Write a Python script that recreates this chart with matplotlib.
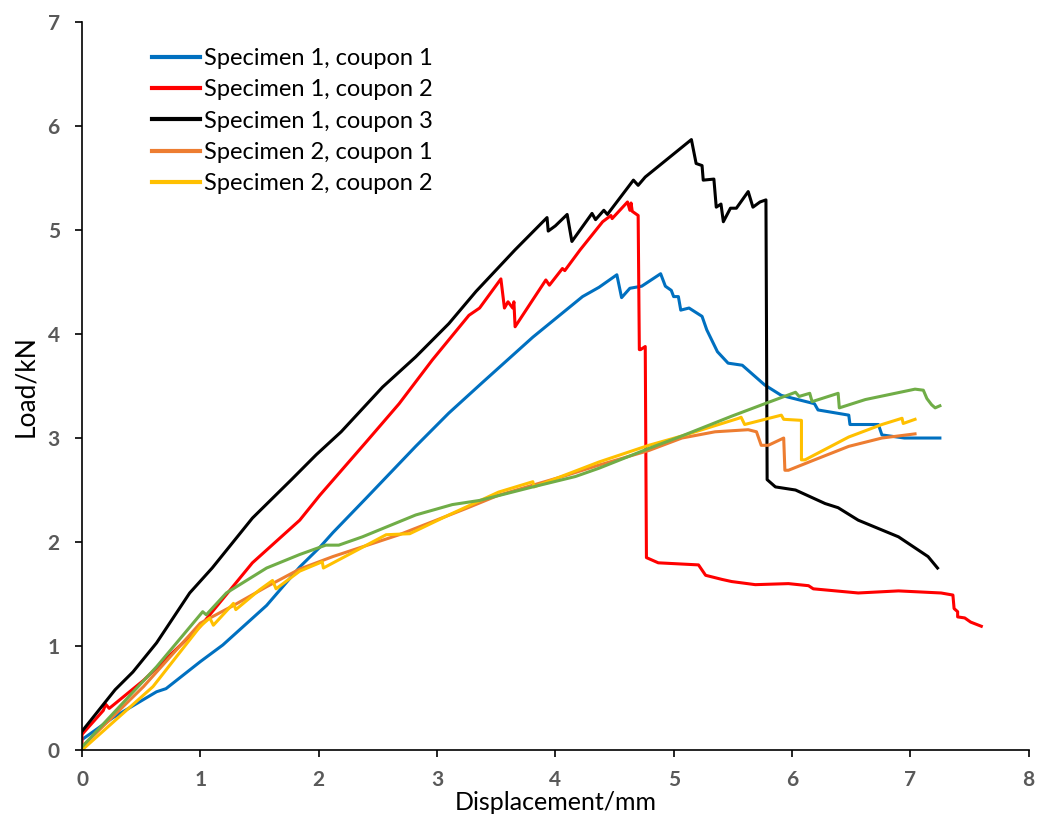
import matplotlib.pyplot as plt

# curves (displacement mm, load kN)
s1c1_x = [0, 0.26, 0.63, 0.71, 1.0, 1.19, 1.56, 1.84, 2.01, 2.12, 2.40, 2.82, 3.10, 3.38, 3.81,
          4.23, 4.37, 4.52, 4.56, 4.63, 4.73, 4.89, 4.93, 4.98, 5.0, 5.04, 5.06, 5.13, 5.24,
          5.28, 5.37, 5.46, 5.58, 5.77, 5.91, 6.19, 6.22, 6.48, 6.49, 6.73, 6.76, 6.95, 7.25]
s1c1_y = [0.1, 0.31, 0.56, 0.59, 0.85, 1.01, 1.39, 1.76, 1.95, 2.09, 2.42, 2.92, 3.24, 3.53, 3.97,
          4.36, 4.45, 4.57, 4.35, 4.44, 4.46, 4.58, 4.46, 4.42, 4.36, 4.36, 4.23, 4.25, 4.17,
          4.04, 3.83, 3.72, 3.70, 3.51, 3.41, 3.33, 3.27, 3.22, 3.13, 3.13, 3.03, 3.0, 3.0]

s1c2_x = [0, 0, 0.18, 0.2, 0.23, 0.52, 1.0, 1.44, 1.84, 2.01, 2.40, 2.68, 2.96, 3.27, 3.36,
          3.54, 3.57, 3.60, 3.64, 3.65, 3.66, 3.81, 3.92, 3.95, 4.06, 4.08, 4.21, 4.40, 4.47,
          4.48, 4.61, 4.63, 4.64, 4.65, 4.70, 4.71, 4.72, 4.76, 4.77, 4.81, 4.87, 5.21, 5.27,
          5.41, 5.49, 5.69, 5.97, 6.14, 6.18, 6.56, 6.90, 7.26, 7.36, 7.37, 7.40, 7.40, 7.46,
          7.51, 7.60]
s1c2_y = [0.05, 0.15, 0.38, 0.44, 0.40, 0.67, 1.19, 1.80, 2.21, 2.45, 2.96, 3.33, 3.75, 4.18, 4.25,
          4.53, 4.25, 4.31, 4.25, 4.31, 4.07, 4.33, 4.52, 4.47, 4.63, 4.61, 4.81, 5.08, 5.14,
          5.11, 5.27, 5.19, 5.26, 5.18, 5.14, 3.85, 3.85, 3.88, 1.85, 1.83, 1.80, 1.78, 1.68,
          1.64, 1.62, 1.59, 1.60, 1.58, 1.55, 1.51, 1.53, 1.51, 1.49, 1.36, 1.33, 1.28, 1.27,
          1.23, 1.19]

s1c3_x = [0, 0.28, 0.43, 0.63, 0.91, 1.10, 1.44, 1.77, 1.84, 1.98, 2.19, 2.54, 2.82, 3.10, 3.33,
          3.66, 3.93, 3.94, 4.0, 4.10, 4.14, 4.31, 4.34, 4.41, 4.44, 4.66, 4.70, 4.76, 5.15,
          5.19, 5.24, 5.25, 5.34, 5.36, 5.40, 5.42, 5.48, 5.53, 5.63, 5.67, 5.73, 5.78, 5.79,
          5.86, 6.03, 6.28, 6.39, 6.56, 6.90, 7.15, 7.23]
s1c3_y = [0.18, 0.58, 0.75, 1.03, 1.51, 1.75, 2.23, 2.60, 2.68, 2.84, 3.06, 3.49, 3.78, 4.10, 4.41,
          4.81, 5.12, 4.99, 5.04, 5.15, 4.89, 5.16, 5.10, 5.19, 5.15, 5.48, 5.43, 5.51, 5.87,
          5.64, 5.62, 5.48, 5.49, 5.22, 5.25, 5.08, 5.21, 5.21, 5.37, 5.22, 5.27, 5.29, 2.60,
          2.53, 2.50, 2.37, 2.33, 2.21, 2.05, 1.86, 1.75]

s2c1_x = [0, 0.52, 1.0, 1.28, 1.56, 1.84, 2.12, 2.68, 3.24, 3.52, 4.09, 4.37, 4.79, 5.07, 5.35,
          5.63, 5.70, 5.74, 5.80, 5.93, 5.94, 5.97, 6.19, 6.48, 6.76, 7.04]
s2c1_y = [0.03, 0.61, 1.22, 1.39, 1.57, 1.74, 1.86, 2.07, 2.32, 2.45, 2.64, 2.74, 2.88, 3.0, 3.06,
          3.08, 3.06, 2.93, 2.93, 3.0, 2.69, 2.69, 2.79, 2.92, 3.0, 3.04]

s2c2_x = [0, 0.60, 1.0, 1.08, 1.11, 1.28, 1.30, 1.50, 1.61, 1.64, 1.84, 2.03, 2.04, 2.57, 2.77,
          3.10, 3.52, 3.81, 3.82, 4.37, 4.79, 5.07, 5.55, 5.57, 5.60, 5.91, 5.93, 6.08, 6.08,
          6.11, 6.48, 6.76, 6.93, 6.94, 7.04]
s2c2_y = [0, 0.61, 1.19, 1.27, 1.20, 1.41, 1.35, 1.54, 1.63, 1.55, 1.72, 1.81, 1.75, 2.07, 2.08,
          2.26, 2.48, 2.58, 2.53, 2.77, 2.93, 3.02, 3.19, 3.20, 3.13, 3.22, 3.18, 3.17, 2.79,
          2.79, 3.01, 3.13, 3.19, 3.14, 3.18]

# green curve has no legend entry in the original
extra_x = [0, 0.63, 1.02, 1.05, 1.22, 1.56, 1.84, 2.06, 2.17, 2.37, 2.82, 3.13, 3.36, 3.81, 4.17,
           4.37, 4.79, 5.07, 5.49, 5.77, 6.03, 6.06, 6.15, 6.17, 6.39, 6.40, 6.62, 7.04, 7.11,
           7.14, 7.18, 7.21, 7.25]
extra_y = [0.03, 0.80, 1.33, 1.30, 1.51, 1.75, 1.88, 1.97, 1.97, 2.05, 2.26, 2.36, 2.40, 2.53, 2.63,
           2.71, 2.90, 3.02, 3.21, 3.33, 3.44, 3.40, 3.43, 3.35, 3.43, 3.29, 3.37, 3.47, 3.46,
           3.38, 3.32, 3.29, 3.31]

labels = ["Specimen 1, coupon 1", "Specimen 1, coupon 2", "Specimen 1, coupon 3",
          "Specimen 2, coupon 1", "Specimen 2, coupon 2"]

fig = plt.figure(figsize=(10.46, 8.17), dpi=100)
ax = fig.add_axes([0.0784, 0.082, 0.905, 0.891])

lw = 2.2
ax.plot(s1c1_x, s1c1_y, color="#0070C0", lw=lw, label=labels[0])
ax.plot(s1c2_x, s1c2_y, color="#FF0000", lw=lw, label=labels[1])
ax.plot(s1c3_x, s1c3_y, color="black", lw=lw, label=labels[2])
ax.plot(s2c1_x, s2c1_y, color="#ED7D31", lw=lw, label=labels[3])
ax.plot(s2c2_x, s2c2_y, color="#FFC000", lw=lw, label=labels[4])
ax.plot(extra_x, extra_y, color="#70AD47", lw=lw)

ax.set_xlim(0, 8)
ax.set_ylim(0, 7)
ax.spines["top"].set_visible(False)
ax.spines["right"].set_visible(False)
ax.spines["left"].set_linewidth(1.2)
ax.spines["bottom"].set_linewidth(1.2)
ax.tick_params(length=5, width=1.2)
ax.tick_params(axis="y", pad=11)
ax.tick_params(axis="x", pad=9.5)
for t in ax.get_xticklabels() + ax.get_yticklabels():
    t.set_fontfamily("Lato")
    t.set_fontweight("bold")
    t.set_fontsize(15)
    t.set_color("#595959")

ax.set_xlabel("Displacement/mm", fontsize=18, family="Lato", labelpad=0.5)
ax.set_ylabel("Load/kN", fontsize=19, family="Lato", labelpad=7)

leg = ax.legend(loc="upper left", bbox_to_anchor=(0.1363, 0.953), bbox_transform=fig.transFigure,
                frameon=False, prop={"family": "Lato", "size": 17}, handlelength=2.03,
                handletextpad=0.17, labelspacing=0.44, borderaxespad=0)
for line in leg.get_lines():
    line.set_linewidth(3)

fig.savefig("out.png", dpi=100)
